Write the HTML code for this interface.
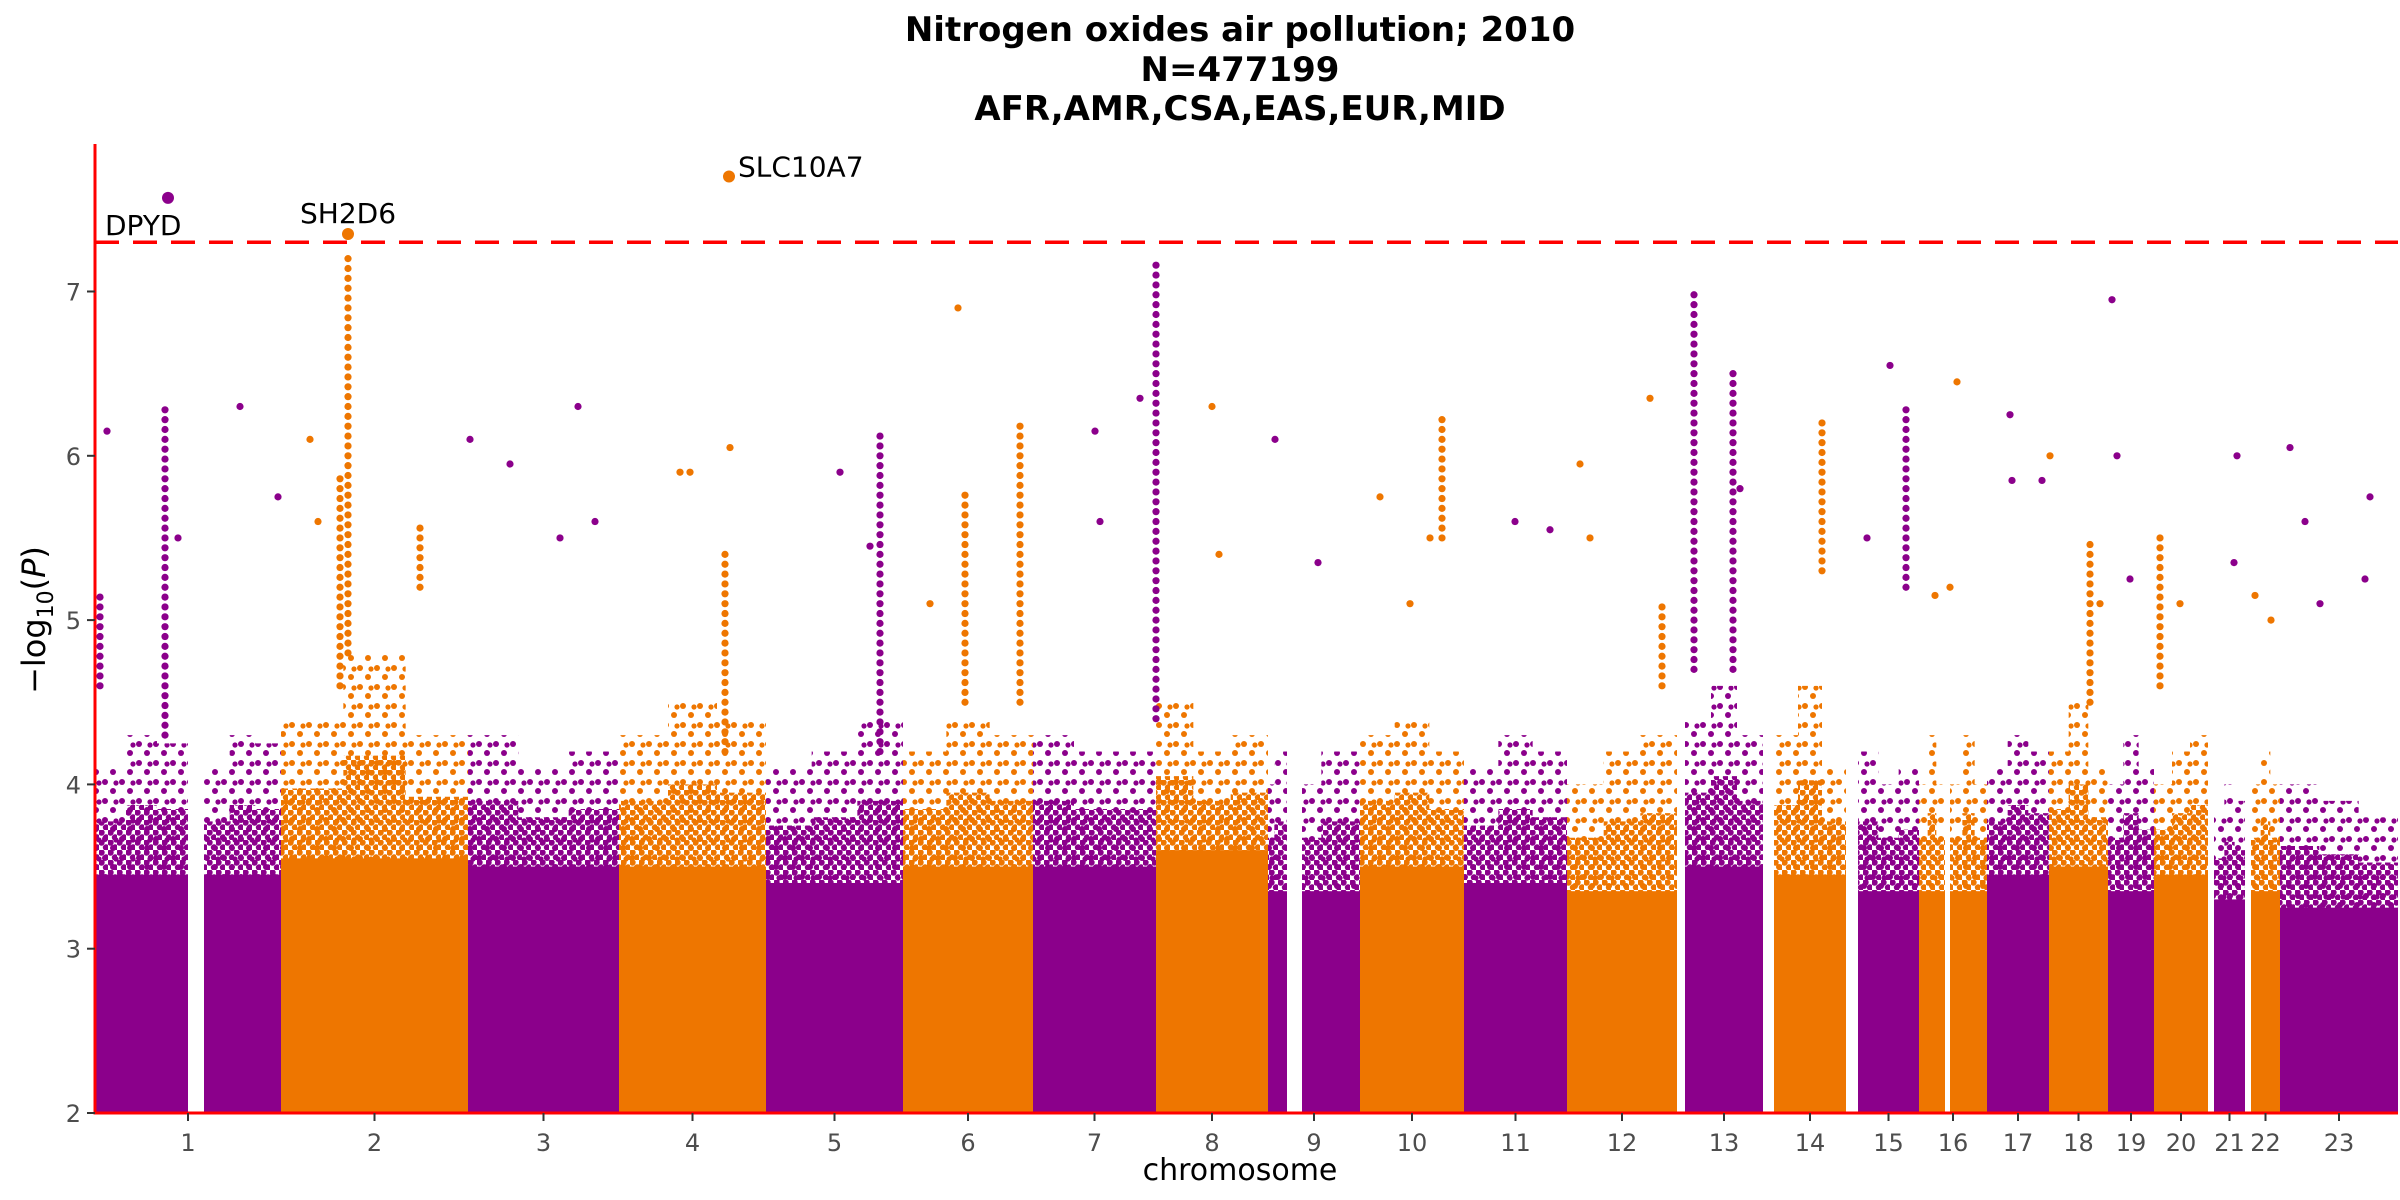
<!DOCTYPE html>
<html><head><meta charset="utf-8">
<style>
html,body{margin:0;padding:0;background:#fff;}
svg{display:block;}
text{font-family:"DejaVu Sans","Liberation Sans",sans-serif;}
</style></head>
<body>
<svg id="chart" width="2400" height="1200" viewBox="0 0 2400 1200" xmlns="http://www.w3.org/2000/svg">
<defs>
<pattern id="dP" width="9" height="10" patternUnits="userSpaceOnUse"><circle cx="2.5" cy="2.5" r="3.2" fill="#8B008B"/><circle cx="7" cy="7.5" r="3.2" fill="#8B008B"/></pattern>
<pattern id="dO" width="9" height="10" patternUnits="userSpaceOnUse"><circle cx="2.5" cy="2.5" r="3.2" fill="#EE7600"/><circle cx="7" cy="7.5" r="3.2" fill="#EE7600"/></pattern>
<pattern id="sP" width="17" height="19" patternUnits="userSpaceOnUse"><circle cx="3" cy="3" r="3" fill="#8B008B"/><circle cx="11" cy="12" r="3" fill="#8B008B"/><circle cx="14" cy="4" r="2.6" fill="#8B008B"/></pattern>
<pattern id="sO" width="17" height="19" patternUnits="userSpaceOnUse"><circle cx="3" cy="3" r="3" fill="#EE7600"/><circle cx="11" cy="12" r="3" fill="#EE7600"/><circle cx="14" cy="4" r="2.6" fill="#EE7600"/></pattern>
</defs>
<g font-weight="bold" font-size="34" text-anchor="middle" fill="#000">
<text x="1240" y="41">Nitrogen oxides air pollution; 2010</text>
<text x="1240" y="81">N=477199</text>
<text x="1240" y="120">AFR,AMR,CSA,EAS,EUR,MID</text>
</g>
<g id="marks"></g>
<g id="axes"></g>
<text transform="translate(45,620) rotate(-90)" font-size="32" text-anchor="middle">−log<tspan font-size="22" dy="8">10</tspan><tspan dy="-8">(</tspan><tspan font-style="italic">P</tspan>)</text>
<text x="1240" y="1180" font-size="30" text-anchor="middle">chromosome</text>
</svg>
<script>
// ---- data ----
const chrNames=["1","2","3","4","5","6","7","8","9","10","11","12","13","14","15","16","17","18","19","20","21","22","23"];
const chrStart=[0,186,373,524,671,808,938,1061,1173,1265,1369,1472,1590,1679,1763,1824,1892,1954,2013,2059,2119,2156,2185];
const chrEnd=[186,373,524,671,808,938,1061,1173,1265,1369,1472,1582,1668,1751,1824,1892,1954,2013,2059,2113,2150,2185,2303];
const gapStart=[93,null,null,null,null,null,null,null,1192,null,null,null,null,null,null,1850,null,null,null,null,null,null,null];
const gapEnd=[109,null,null,null,null,null,null,null,1207,null,null,null,null,null,null,1855,null,null,null,null,null,null,null];
const solidTop=[3.45,3.55,3.5,3.5,3.4,3.5,3.5,3.6,3.35,3.5,3.4,3.35,3.5,3.45,3.35,3.35,3.45,3.5,3.35,3.45,3.3,3.35,3.25];
const speckleA=[4.1,4.4,4.3,4.3,4.1,4.2,4.3,4.5,4.0,4.3,4.1,4.0,4.4,4.3,4.2,4.0,4.1,4.2,4.0,4.0,3.8,4.0,4.0];
const speckleB=[4.3,4.8,4.1,4.5,4.2,4.4,4.2,4.2,4.2,4.4,4.3,4.2,4.6,4.6,4.0,4.3,4.3,4.5,4.3,4.2,4.0,4.2,3.9];
const speckleC=[4.25,4.3,4.2,4.4,4.4,4.3,4.2,4.3,4.2,4.2,4.2,4.3,4.3,4.1,4.1,4.0,4.2,4.1,4.1,4.3,3.9,4.0,3.8];
const spikePos=[5,12,70,83,145,183,215,223,245,253,325,375,415,465,483,500,585,595,630,635,745,785,775,835,863,870,925,1000,1005,1045,1061,1117,1124,1180,1223,1285,1315,1347,1335,1420,1455,1485,1495,1555,1567,1599,1638,1645,1727,1772,1795,1811,1840,1862,1855,1915,1917,1947,1955,1995,2005,2017,2022,2035,2065,2085,2142,2139,2160,2176,2195,2210,2225,2270,2275];
const spikeLow=[4.6,6.15,4.3,5.5,6.3,5.75,6.1,5.6,4.6,4.8,5.2,6.1,5.95,5.5,6.3,5.6,5.9,5.9,4.2,6.05,5.9,4.2,5.45,5.1,6.9,4.5,4.5,6.15,5.6,6.35,4.4,6.3,5.4,6.1,5.35,5.75,5.1,5.5,5.5,5.6,5.55,5.95,5.5,6.35,4.6,4.7,4.7,5.8,5.3,5.5,6.55,5.2,5.15,6.45,5.2,6.25,5.85,5.85,6.0,4.5,5.1,6.95,6.0,5.25,4.6,5.1,6.0,5.35,5.15,5.0,6.05,5.6,5.1,5.25,5.75];
const spikeHigh=[5.15,6.15,6.28,5.5,6.3,5.75,6.1,5.6,5.9,7.2,5.6,6.1,5.95,5.5,6.3,5.6,5.9,5.9,5.4,6.05,5.9,6.15,5.45,5.1,6.9,5.8,6.2,6.15,5.6,6.35,7.2,6.3,5.4,6.1,5.35,5.75,5.1,6.25,5.5,5.6,5.55,5.95,5.5,6.35,5.1,7.0,6.5,5.8,6.2,5.5,6.55,6.3,5.15,6.45,5.2,6.25,5.85,5.85,6.0,5.5,5.1,6.95,6.0,5.25,5.55,5.1,6.0,5.35,5.15,5.0,6.05,5.6,5.1,5.25,5.75];
const hitNames=["DPYD","SH2D6","SLC10A7"];
const hitPos=[73,253,634];
const hitVal=[7.57,7.35,7.7];
const yTicks=[2,3,4,5,6,7];
const sigLine=7.3;
// ---- scales ----
const X0=95, X1=2398, Y0=1113;
const xS=u=>X0+u*(X1-X0)/2303;
const yS=v=>Y0-(v-2)*164.3;
const NS="http://www.w3.org/2000/svg";
const marks=document.getElementById('marks'), axes=document.getElementById('axes');
function mk(tag,attrs,parent){const e=document.createElementNS(NS,tag);for(const k in attrs)e.setAttribute(k,attrs[k]);parent.appendChild(e);return e;}
const chrOf=u=>{for(let i=0;i<chrStart.length;i++){if(u>=chrStart[i]&&u<=chrEnd[i])return i;}return 0;};
const col=i=>i%2===0?"#8B008B":"#EE7600";
chrNames.forEach((nm,i)=>{
  const g=mk('g',{},marks);
  
  
  const segs=gapStart[i]===null?[[chrStart[i],chrEnd[i]]]:[[chrStart[i],gapStart[i]],[gapEnd[i],chrEnd[i]]];
  const sp=[speckleA[i],speckleB[i],speckleC[i]];
  segs.forEach(([a,b])=>{
    const xa=xS(a), xb=xS(b), w=xb-xa;
    const pts=[[xa,Y0]], pts2=[[xa,Y0]];
    for(let k=0;k<3;k++){
      const x1=xa+w*k/3,x2=xa+w*(k+1)/3;
      pts.push([x1,yS(sp[k])],[x2,yS(sp[k])]);
      const mid=(solidTop[i]+sp[k])/2;
      pts2.push([x1,yS(mid)],[x2,yS(mid)]);
    }
    pts.push([xb,Y0]); pts2.push([xb,Y0]);
    const pg=mk('polygon',{points:pts.map(p=>p.join(',')).join(' '),fill:i%2===0?'url(#sP)':'url(#sO)'},g);
    
    
    const pg2=mk('polygon',{points:pts2.map(p=>p.join(',')).join(' '),fill:i%2===0?'url(#dP)':'url(#dO)'},g);
    
    
    const r=mk('rect',{x:xa,y:yS(solidTop[i]),width:w,height:Y0-yS(solidTop[i]),fill:col(i)},g);
    
    
  });
});
spikePos.forEach((p,j)=>{
  const ci=chrOf(p);
  const g=mk('g',{fill:col(ci)},marks);
  
  
  for(let v=spikeLow[j];v<=spikeHigh[j]+1e-6;v+=0.06){
    mk('circle',{cx:xS(p),cy:yS(v),r:3.6},g);
  }
});
// significance line
const sl=mk('line',{x1:X0,x2:X1,y1:yS(sigLine),y2:yS(sigLine),stroke:'#FF0000','stroke-width':3.5,'stroke-dasharray':'24 14'},axes);


hitNames.forEach((nm,j)=>{
  const ci=chrOf(hitPos[j]);
  const c=mk('circle',{cx:xS(hitPos[j]),cy:yS(hitVal[j]),r:6,fill:col(ci)},axes);
  
  
  let tx,ty,anchor;
  if(j===0){tx=xS(hitPos[j])-63;ty=yS(hitVal[j])+37;anchor='start';}
  else if(j===1){tx=xS(hitPos[j]);ty=yS(hitVal[j])-11;anchor='middle';}
  else {tx=xS(hitPos[j])+9;ty=yS(hitVal[j])+0;anchor='start';}
  const t=mk('text',{x:tx,y:ty,'font-size':28,'text-anchor':anchor,fill:'#000'},axes);
  t.textContent=nm;
  
  
});
// axes
const la=mk('line',{x1:X0,x2:X0,y1:144,y2:Y0+1.5,stroke:'#FF0000','stroke-width':3},axes);


const ba=mk('line',{x1:X0-1.5,x2:X1,y1:Y0,y2:Y0,stroke:'#FF0000','stroke-width':3},axes);


yTicks.forEach(v=>{
  const tk=mk('line',{x1:X0-8,x2:X0,y1:yS(v),y2:yS(v),stroke:'#333','stroke-width':2},axes);
  
  
  const t=mk('text',{x:X0-14,y:yS(v)+9,'font-size':24,'text-anchor':'end',fill:'#4d4d4d'},axes);
  t.textContent=v;
  
  
});
chrNames.forEach((nm,i)=>{
  const cx=xS((chrStart[i]+chrEnd[i])/2);
  const tk=mk('line',{x1:cx,x2:cx,y1:Y0,y2:Y0+8,stroke:'#333','stroke-width':2},axes);
  
  
  const t=mk('text',{x:cx,y:Y0+38,'font-size':24,'text-anchor':'middle',fill:'#4d4d4d'},axes);
  t.textContent=nm;
  
  
});
</script>
</body></html>
